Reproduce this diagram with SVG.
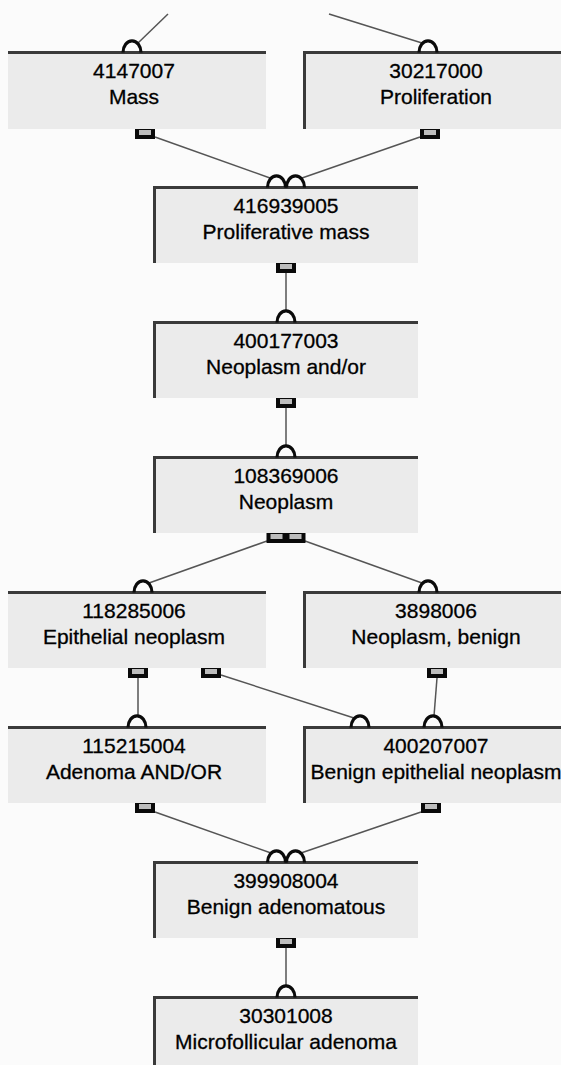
<svg xmlns="http://www.w3.org/2000/svg" xmlns:xlink="http://www.w3.org/1999/xlink" width="561" height="1065" viewBox="0 0 561 1065">
<style>
.box{fill:#ebebeb}
.bd{stroke:#3a3a3a;stroke-width:3;fill:none}
.t{font-family:"Liberation Sans",Arial,sans-serif;font-size:21px;fill:#000;stroke:#000;stroke-width:0.3;text-anchor:middle}
.ln{stroke:#555;stroke-width:1.5;fill:none}
.arc{stroke:#0a0a0a;stroke-width:3.2;fill:none}
</style>
<defs>
<g id="sq"><rect x="-10" y="0" width="20" height="10" fill="#0a0a0a"/><rect x="-6" y="1" width="12" height="5" fill="#bdbdbd"/></g>
<path id="ar" d="M-9 0.5 A8.5 11 0 0 1 9 0.5"/>
</defs>
<rect width="561" height="1065" fill="#fbfbfb"/>

<g id="n4147007">
<rect class="box" x="8" y="51" width="258" height="78"/>
<path class="bd" d="M8 52.5H266"/>
<text class="t" x="134" y="78">4147007</text>
<text class="t" x="134" y="104">Mass</text>
</g>
<g id="n30217000">
<rect class="box" x="303" y="51" width="265" height="78"/>
<path class="bd" d="M304.5 129V52.5H568"/>
<text class="t" x="436" y="78">30217000</text>
<text class="t" x="436" y="104">Proliferation</text>
</g>
<g id="n416939005">
<rect class="box" x="153" y="186" width="265" height="77"/>
<path class="bd" d="M154.5 263V187.5H418"/>
<text class="t" x="286" y="213">416939005</text>
<text class="t" x="286" y="239">Proliferative mass</text>
</g>
<g id="n400177003">
<rect class="box" x="153" y="321" width="265" height="77"/>
<path class="bd" d="M154.5 398V322.5H418"/>
<text class="t" x="286" y="348">400177003</text>
<text class="t" x="286" y="374">Neoplasm and/or</text>
</g>
<g id="n108369006">
<rect class="box" x="153" y="456" width="265" height="77"/>
<path class="bd" d="M154.5 533V457.5H418"/>
<text class="t" x="286" y="483">108369006</text>
<text class="t" x="286" y="509">Neoplasm</text>
</g>
<g id="n118285006">
<rect class="box" x="8" y="591" width="258" height="77"/>
<path class="bd" d="M8 592.5H266"/>
<text class="t" x="134" y="618">118285006</text>
<text class="t" x="134" y="644">Epithelial neoplasm</text>
</g>
<g id="n3898006">
<rect class="box" x="303" y="591" width="265" height="77"/>
<path class="bd" d="M304.5 668V592.5H568"/>
<text class="t" x="436" y="618">3898006</text>
<text class="t" x="436" y="644">Neoplasm, benign</text>
</g>
<g id="n115215004">
<rect class="box" x="8" y="726" width="258" height="77"/>
<path class="bd" d="M8 727.5H266"/>
<text class="t" x="134" y="753">115215004</text>
<text class="t" x="134" y="779">Adenoma AND/OR</text>
</g>
<g id="n400207007">
<rect class="box" x="303" y="726" width="265" height="77"/>
<path class="bd" d="M304.5 803V727.5H568"/>
<text class="t" x="436" y="753">400207007</text>
<text class="t" x="436" y="779">Benign epithelial neoplasm</text>
</g>
<g id="n399908004">
<rect class="box" x="153" y="861" width="265" height="77"/>
<path class="bd" d="M154.5 938V862.5H418"/>
<text class="t" x="286" y="888">399908004</text>
<text class="t" x="286" y="914">Benign adenomatous</text>
</g>
<g id="n30301008">
<rect class="box" x="153" y="996" width="265" height="77"/>
<path class="bd" d="M154.5 1073V997.5H418"/>
<text class="t" x="286" y="1023">30301008</text>
<text class="t" x="286" y="1049">Microfollicular adenoma</text>
</g>

<g id="connectors">
<path class="ln" d="M168 14L138 43"/>
<path class="ln" d="M329 14L422 43"/>
<path class="ln" d="M155 137L270 178"/>
<path class="ln" d="M420 137L302 178"/>
<path class="ln" d="M286 273V311"/>
<path class="ln" d="M286 408V446"/>
<path class="ln" d="M267 541L149 583"/>
<path class="ln" d="M305 541L422 583"/>
<path class="ln" d="M138 678V716"/>
<path class="ln" d="M221 675L354 718"/>
<path class="ln" d="M437 678L434 716"/>
<path class="ln" d="M155 812L271 853"/>
<path class="ln" d="M421 812L301 853"/>
<path class="ln" d="M286 948V986"/>

<use xlink:href="#ar" class="arc" x="132" y="52"/>
<use xlink:href="#ar" class="arc" x="428" y="52"/>
<use xlink:href="#ar" class="arc" x="276.5" y="187"/>
<use xlink:href="#ar" class="arc" x="295.5" y="187"/>
<use xlink:href="#ar" class="arc" x="286" y="322"/>
<use xlink:href="#ar" class="arc" x="286" y="457"/>
<use xlink:href="#ar" class="arc" x="143" y="592"/>
<use xlink:href="#ar" class="arc" x="428" y="592"/>
<use xlink:href="#ar" class="arc" x="137" y="727"/>
<use xlink:href="#ar" class="arc" x="360" y="727"/>
<use xlink:href="#ar" class="arc" x="433" y="727"/>
<use xlink:href="#ar" class="arc" x="276.5" y="862"/>
<use xlink:href="#ar" class="arc" x="295.5" y="862"/>
<use xlink:href="#ar" class="arc" x="286" y="997"/>

<use xlink:href="#sq" x="145" y="129"/>
<use xlink:href="#sq" x="430" y="129"/>
<use xlink:href="#sq" x="286" y="263"/>
<use xlink:href="#sq" x="286" y="398"/>
<use xlink:href="#sq" x="276.5" y="533"/>
<use xlink:href="#sq" x="295.5" y="533"/>
<use xlink:href="#sq" x="138" y="668"/>
<use xlink:href="#sq" x="211" y="668"/>
<use xlink:href="#sq" x="437" y="668"/>
<use xlink:href="#sq" x="145" y="803"/>
<use xlink:href="#sq" x="431" y="803"/>
<use xlink:href="#sq" x="286" y="938"/>
</g>
</svg>
